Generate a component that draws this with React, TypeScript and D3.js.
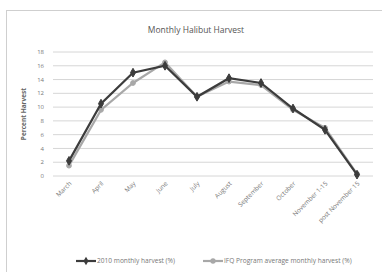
import { useEffect, useRef } from "react";
import * as d3 from "d3";

const months = [
  "March", "April", "May", "June", "July", "August",
  "September", "October", "November 1-15", "post November 15",
];
const harvest2010 = [2.2, 10.5, 15.0, 16.0, 11.5, 14.2, 13.5, 9.8, 6.7, 0.2];
const ifqAverage = [1.5, 9.6, 13.5, 16.5, 11.5, 13.7, 13.2, 9.6, 7.0, 0.3];
const yTicks = [0, 2, 4, 6, 8, 10, 12, 14, 16, 18];

const W = 382;
const H = 272;

export default function App() {
  const svgRef = useRef<SVGSVGElement | null>(null);

  useEffect(() => {
    const svg = d3.select(svgRef.current);
    svg.selectAll("*").remove();

    const font = "'Open Sans', 'Liberation Sans', Arial, sans-serif";
    const left = 53, right = 373, top = 52, bottom = 176;

    // chart frame
    svg.append("rect")
      .attr("x", 6.5).attr("y", 10.5)
      .attr("width", 380).attr("height", 270)
      .attr("fill", "#fff").attr("stroke", "#cfcfcf");

    svg.append("text")
      .attr("x", 196).attr("y", 33)
      .attr("text-anchor", "middle")
      .attr("font-family", font).attr("font-size", 8.5)
      .attr("fill", "#555")
      .text("Monthly Halibut Harvest");

    const x = d3.scalePoint<string>()
      .domain(months)
      .range([left, right])
      .padding(0.5);

    const y = d3.scaleLinear().domain([0, 18]).range([bottom, top]);

    const g = svg.append("g");

    // gridlines
    g.selectAll(".grid")
      .data(yTicks)
      .enter()
      .append("line")
      .attr("x1", left).attr("x2", right)
      .attr("y1", d => y(d)).attr("y2", d => y(d))
      .attr("stroke", "#d6d6d6").attr("stroke-width", 1);

    g.selectAll(".ylab")
      .data(yTicks)
      .enter()
      .append("text")
      .attr("x", 44)
      .attr("y", d => y(d))
      .attr("dy", "0.35em")
      .attr("text-anchor", "end")
      .attr("font-family", font).attr("font-size", 6)
      .attr("fill", "#777")
      .text(d => d);

    svg.append("text")
      .attr("transform", `translate(26,${(top + bottom) / 2}) rotate(-90)`)
      .attr("text-anchor", "middle")
      .attr("font-family", font).attr("font-size", 6.5)
      .attr("font-weight", "bold")
      .attr("fill", "#666")
      .text("Percent Harvest");

    // category labels, rotated
    g.selectAll(".xlab")
      .data(months)
      .enter()
      .append("text")
      .attr("transform", d => `translate(${(x(d) ?? 0) + 3},${bottom + 8}) rotate(-45)`)
      .attr("text-anchor", "end")
      .attr("font-family", font).attr("font-size", 6.4)
      .attr("fill", "#777")
      .text(d => d);

    const line = d3.line<number>()
      .x((_, i) => x(months[i]) ?? 0)
      .y(d => y(d));

    const series = [
      { values: ifqAverage, color: "#a8a8a8", marker: "circle" },
      { values: harvest2010, color: "#3c3c3c", marker: "diamond" },
    ];

    series.forEach(s => {
      g.append("path")
        .datum(s.values)
        .attr("d", line)
        .attr("fill", "none")
        .attr("stroke", s.color)
        .attr("stroke-width", 2.2);

      const sym = d3.symbol()
        .type(s.marker === "diamond" ? d3.symbolDiamond : d3.symbolCircle)
        .size(s.marker === "diamond" ? 22 : 18);

      g.selectAll(null)
        .data(s.values)
        .enter()
        .append("path")
        .attr("d", sym)
        .attr("transform", (d, i) => `translate(${x(months[i])},${y(d)})`)
        .attr("fill", s.color)
        .attr("stroke", s.color);
    });

    // legend
    const legend = [
      { label: "2010 monthly harvest (%)", color: "#3c3c3c", x0: 76, marker: "diamond" },
      { label: "IFQ Program average monthly harvest (%)", color: "#a8a8a8", x0: 203, marker: "circle" },
    ];
    legend.forEach(l => {
      const ly = 261;
      svg.append("line")
        .attr("x1", l.x0).attr("x2", l.x0 + 20)
        .attr("y1", ly).attr("y2", ly)
        .attr("stroke", l.color).attr("stroke-width", 2.2);
      svg.append("path")
        .attr("d", d3.symbol().type(l.marker === "diamond" ? d3.symbolDiamond : d3.symbolCircle).size(22))
        .attr("transform", `translate(${l.x0 + 10},${ly})`)
        .attr("fill", l.color);
      svg.append("text")
        .attr("x", l.x0 + 21).attr("y", ly)
        .attr("dy", "0.35em")
        .attr("font-family", font).attr("font-size", 6.6)
        .attr("fill", "#777")
        .text(l.label);
    });
  }, []);

  return (
    <svg
      ref={svgRef}
      width={W}
      height={H}
      style={{ position: "absolute", left: 0, top: 0, background: "#fff" }}
    />
  );
}
